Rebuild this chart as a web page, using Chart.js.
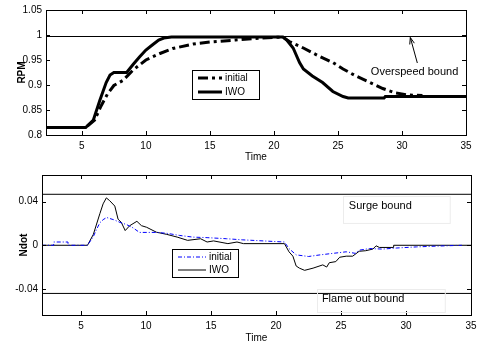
<!DOCTYPE html>
<html>
<head>
<meta charset="utf-8">
<script src="https://cdn.jsdelivr.net/npm/chart.js@4.4.1/dist/chart.umd.min.js"></script>
<style>
  body { margin: 0; background: #fff; width: 486px; height: 346px; overflow: hidden; }
  canvas { position: absolute; left: 0; }
  #top { top: 0; }
  #bottom { top: 165px; }
</style>
</head>
<body>
<canvas id="top" width="486" height="165"></canvas>
<canvas id="bottom" width="486" height="181"></canvas>
<script>
// ---- top panel: RPM ----
const rpmTicksX = [5, 10, 15, 20, 25, 30, 35];
const rpmTicksY = [0.8, 0.85, 0.9, 0.95, 1, 1.05];

const rpmInitialT = [2.2, 5.3, 6.0, 6.5, 7.0, 7.5, 8.2, 9.0, 10.0, 11.1, 12.1, 13.7, 15.0, 17.0, 19.0, 20.7,
  21.2, 22.3, 23.5, 24.6, 25.4, 26.4, 27.5, 28.5, 29.5, 30.5, 31.6];
const rpmInitial = [0.815, 0.815, 0.83, 0.858, 0.882, 0.899, 0.909, 0.93, 0.95, 0.963, 0.973, 0.982, 0.986, 0.99, 0.994, 0.996,
  0.987, 0.974, 0.958, 0.945, 0.932, 0.918, 0.905, 0.893, 0.884, 0.88, 0.879];

const rpmIwoT = [2.2, 5.3, 5.9, 6.4, 6.9, 7.2, 7.5, 8.5, 9.0, 9.5, 10.0, 10.5, 11.0, 11.4, 12.0, 20.7,
  21.0, 21.5, 22.0, 22.3, 23.0, 23.8, 24.6, 25.4, 25.8, 28.6, 28.7, 35];
const rpmIwo = [0.815, 0.815, 0.83, 0.869, 0.905, 0.92, 0.925, 0.925, 0.941, 0.956, 0.97, 0.98, 0.99, 0.994, 0.996, 0.996,
  0.99, 0.974, 0.945, 0.932, 0.918, 0.905, 0.887, 0.877, 0.874, 0.874, 0.877, 0.877];

const overspeedT = [2.2, 35];
const overspeed = [0.997, 0.997];

// ---- bottom panel: Ndot ----
const ndotTicksX = [5, 10, 15, 20, 25, 30, 35];
const ndotTicksY = [-0.04, 0, 0.04];

const ndotInitialT = [2.0, 2.9, 2.9, 4.0, 4.0, 5.5, 5.95, 6.2, 6.45, 6.7, 6.97, 7.5, 8.0, 8.5, 9.0, 9.5, 10.8, 11.6,
  12.6, 13.6, 14.7, 16.2, 17.4, 20.65, 21.0, 21.55, 22.5, 23.4, 24.4, 25.4, 26.1, 26.4, 27.2, 28.2, 29.3, 30.8, 32.3, 34.3];
const ndotInitial = [0, 0, 0.003, 0.003, 0, 0, 0.008, 0.0147, 0.0206, 0.0235, 0.0255, 0.0235, 0.021, 0.019, 0.016, 0.0118, 0.0118, 0.011,
  0.009, 0.0075, 0.007, 0.006, 0.005, 0.003, -0.003, -0.0088, -0.0103, -0.0088, -0.0074, -0.006, -0.0074, -0.0045, -0.003, -0.0035, -0.0025, -0.0015, -0.0008, 0];

const ndotIwoT = [2.0, 5.5, 5.95, 6.45, 6.7, 6.95, 7.2, 7.6, 7.85, 8.1, 8.4, 8.75, 9.3, 9.65, 10.05, 10.8, 11.6, 12.4, 13.2,
  14.2, 14.7, 15.2, 16.3, 17.0, 17.5, 20.65, 21.0, 21.3, 21.55, 21.8, 22.2, 22.85, 23.6, 23.9, 24.1, 24.6, 24.9, 25.4,
  25.9, 26.4, 26.9, 27.45, 27.7, 27.95, 29.0, 29.05, 35];
const ndotIwo = [0, 0, 0.010, 0.029, 0.038, 0.0435, 0.041, 0.036, 0.024, 0.021, 0.0135, 0.018, 0.022, 0.018, 0.0165, 0.012, 0.010, 0.0075, 0.0045,
  0.006, 0.003, 0.004, 0.0015, 0.003, 0.0015, 0.0015, -0.006, -0.010, -0.019, -0.021, -0.023, -0.021, -0.018, -0.020, -0.016, -0.015, -0.011, -0.010,
  -0.010, -0.0055, -0.005, -0.0035, -0.0005, -0.002, -0.002, 0, 0];

const surgeT = [2.0, 35];
const surge = [0.0468, 0.0468];
const flameT = [2.0, 35];
const flame = [-0.0442, -0.0442];

const FONT = 'Liberation Sans, Arial, sans-serif';

function pts(xs, ys) {
  return xs.map((x, i) => ({ x, y: ys[i] }));
}

// box round the plot area plus inward tick marks on all four sides
const frame = {
  id: 'frame',
  afterDatasetsDraw(chart, args, opts) {
    const { ctx, chartArea: a, scales } = chart;
    ctx.save();
    ctx.strokeStyle = '#000';
    ctx.lineWidth = 1;
    ctx.strokeRect(a.left + 0.5, a.top + 0.5, a.right - a.left, a.bottom - a.top);
    ctx.beginPath();
    opts.xTicks.forEach(v => {
      const px = Math.round(scales.x.getPixelForValue(v)) + 0.5;
      ctx.moveTo(px, a.bottom); ctx.lineTo(px, a.bottom - 4);
      ctx.moveTo(px, a.top); ctx.lineTo(px, a.top + 4);
    });
    opts.yTicks.forEach(v => {
      const py = Math.round(scales.y.getPixelForValue(v)) + 0.5;
      ctx.moveTo(a.left, py); ctx.lineTo(a.left + 4, py);
      ctx.moveTo(a.right, py); ctx.lineTo(a.right - 4, py);
    });
    ctx.stroke();
    ctx.restore();
  }
};

// small in-plot legend box
const boxLegend = {
  id: 'boxLegend',
  afterDraw(chart, args, opts) {
    const { ctx } = chart;
    const b = opts.box;
    ctx.save();
    ctx.fillStyle = '#fff';
    ctx.fillRect(b[0], b[1], b[2], b[3]);
    ctx.strokeStyle = '#000';
    ctx.lineWidth = 1;
    ctx.setLineDash([]);
    ctx.strokeRect(b[0] + 0.5, b[1] + 0.5, b[2], b[3]);
    ctx.font = '10px ' + FONT;
    ctx.textBaseline = 'middle';
    opts.items.forEach((it, i) => {
      const ds = chart.data.datasets[it];
      const y = opts.rows[i];
      ctx.beginPath();
      ctx.strokeStyle = ds.borderColor;
      ctx.lineWidth = ds.borderWidth;
      ctx.setLineDash(ds.borderDash || []);
      ctx.moveTo(b[0] + 6, y);
      ctx.lineTo(b[0] + opts.lineLen, y);
      ctx.stroke();
      ctx.setLineDash([]);
      ctx.fillStyle = '#000';
      ctx.fillText(ds.label, b[0] + opts.lineLen + 3, y);
    });
    ctx.restore();
  }
};

// free text notes and the arrow
const notes = {
  id: 'notes',
  afterDraw(chart, args, opts) {
    const { ctx, scales } = chart;
    const X = v => scales.x.getPixelForValue(v);
    const Y = v => scales.y.getPixelForValue(v);
    ctx.save();
    ctx.font = '11px ' + FONT;
    ctx.textBaseline = 'middle';
    (opts.frames || []).forEach(f => {
      ctx.strokeStyle = '#ececec';
      ctx.lineWidth = 1;
      ctx.strokeRect(Math.round(X(f[0])) + 0.5, Math.round(Y(f[1])) + 0.5, X(f[2]) - X(f[0]), Y(f[3]) - Y(f[1]));
    });
    (opts.texts || []).forEach(t => {
      ctx.fillStyle = '#000';
      ctx.fillText(t.text, X(t.x), Y(t.y));
    });
    if (opts.arrow) {
      const [x0, y0, x1, y1] = opts.arrow;
      const ax = X(x0), ay = Y(y0), bx = X(x1), by = Y(y1);
      ctx.strokeStyle = '#000';
      ctx.lineWidth = 1;
      ctx.beginPath();
      ctx.moveTo(ax, ay); ctx.lineTo(bx, by);
      const ang = Math.atan2(by - ay, bx - ax);
      ctx.moveTo(bx, by);
      ctx.lineTo(bx - 7 * Math.cos(ang - 0.35), by - 7 * Math.sin(ang - 0.35));
      ctx.moveTo(bx, by);
      ctx.lineTo(bx - 7 * Math.cos(ang + 0.35), by - 7 * Math.sin(ang + 0.35));
      ctx.stroke();
    }
    ctx.restore();
  }
};

function axes(xMin, xMax, yMin, yMax, xTicks, yTicks, yTitle, yWidth, xHeight, yTitlePad) {
  return {
    x: {
      type: 'linear', min: xMin, max: xMax,
      grid: { display: false, drawTicks: false },
      border: { display: false },
      afterBuildTicks: s => { s.ticks = xTicks.map(v => ({ value: v })); },
      afterFit: s => { s.height = xHeight; },
      ticks: { color: '#000', font: { family: FONT, size: 10 }, padding: 5, maxRotation: 0,
        callback: v => String(v) },
      title: { display: true, text: 'Time', color: '#000', font: { family: FONT, size: 10 }, padding: { top: 0, bottom: 2 } }
    },
    y: {
      type: 'linear', min: yMin, max: yMax,
      grid: { display: false, drawTicks: false },
      border: { display: false },
      afterBuildTicks: s => { s.ticks = yTicks.map(v => ({ value: v })); },
      afterFit: s => { s.width = yWidth; },
      ticks: { color: '#000', font: { family: FONT, size: 10 }, padding: 4,
        callback: v => String(v) },
      title: { display: true, text: yTitle, color: '#000', font: { family: FONT, size: 10, weight: 'bold' }, padding: { top: yTitlePad, bottom: 0 } }
    }
  };
}

const common = {
  responsive: false,
  animation: false,
  devicePixelRatio: 1,
  elements: { point: { radius: 0 }, line: { tension: 0 } },
  plugins: { legend: { display: false }, tooltip: { enabled: false } }
};

new Chart(document.getElementById('top'), {
  type: 'line',
  data: {
    datasets: [
      { label: 'bound', data: pts(overspeedT, overspeed), borderColor: '#000', borderWidth: 1 },
      { label: 'initial', data: pts(rpmInitialT, rpmInitial), borderColor: '#000', borderWidth: 3, borderDash: [10, 4, 3, 4] },
      { label: 'IWO', data: pts(rpmIwoT, rpmIwo), borderColor: '#000', borderWidth: 3 }
    ]
  },
  options: {
    ...common,
    layout: { padding: { top: 8, right: 20, left: 0, bottom: 0 } },
    scales: axes(2.2, 35, 0.8, 1.05, rpmTicksX, rpmTicksY, 'RPM', 46, 30, 16),
    plugins: {
      ...common.plugins,
      frame: { xTicks: rpmTicksX, yTicks: rpmTicksY },
      boxLegend: { box: [192, 70, 67, 29], rows: [78, 92], items: [1, 2], lineLen: 30 },
      notes: {
        texts: [{ text: 'Overspeed bound', x: 27.57, y: 0.926 }],
        arrow: [31.2, 0.944, 30.65, 0.995]
      }
    }
  },
  plugins: [frame, boxLegend, notes]
});

new Chart(document.getElementById('bottom'), {
  type: 'line',
  data: {
    datasets: [
      { label: 'surge', data: pts(surgeT, surge), borderColor: '#000', borderWidth: 1 },
      { label: 'flame', data: pts(flameT, flame), borderColor: '#000', borderWidth: 1 },
      { label: 'initial', data: pts(ndotInitialT, ndotInitial), borderColor: '#0000ff', borderWidth: 1, borderDash: [4, 2, 1, 2] },
      { label: 'IWO', data: pts(ndotIwoT, ndotIwo), borderColor: '#000', borderWidth: 1 }
    ]
  },
  options: {
    ...common,
    layout: { padding: { top: 5, right: 15, left: 0, bottom: 0 } },
    scales: axes(2.0, 35, -0.064, 0.0645, ndotTicksX, ndotTicksY, 'Ndot', 42, 31, 18),
    plugins: {
      ...common.plugins,
      frame: { xTicks: ndotTicksX, yTicks: ndotTicksY },
      boxLegend: { box: [172, 84, 66, 28], rows: [92, 105], items: [2, 3], lineLen: 34 },
      notes: {
        frames: [[25.14, 0.0456, 33.35, 0.0209], [23.14, -0.0404, 32.97, -0.0615]],
        texts: [
          { text: 'Surge bound', x: 25.6, y: 0.0358 },
          { text: 'Flame out bound', x: 23.53, y: -0.0492 }
        ]
      }
    }
  },
  plugins: [frame, boxLegend, notes]
});
</script>
</body>
</html>
